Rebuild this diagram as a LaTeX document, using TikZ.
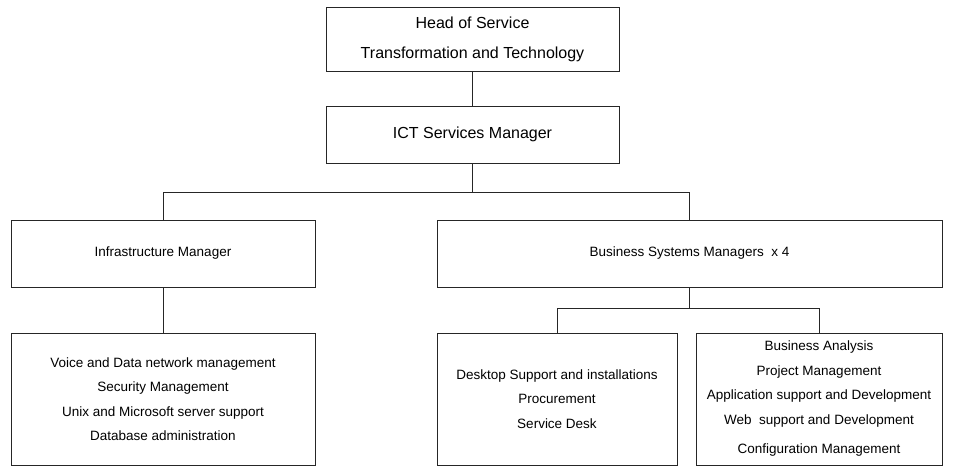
\documentclass[tikz,border=0pt]{standalone}
\usepackage{fontspec}
\setmainfont{Liberation Sans}

\begin{document}
\begin{tikzpicture}[x=1pt,y=-1pt,
       box/.style={rectangle, draw=black!85, line width=1pt, align=center, inner sep=0pt},
       bigtext/.style={font=\fontsize{16}{30}\selectfont},
       smalltext/.style={font=\fontsize{13.5}{24.5}\selectfont},
       link/.style={draw=black!85, line width=1pt}]
       \useasboundingbox (0,0) rectangle (960,466);

       \node[box, bigtext, minimum width=293pt, minimum height=64pt] (head) at (472.5,39) {Head of Service\\Transformation and Technology};
       \node[box, bigtext, minimum width=293pt, minimum height=57pt] (ict) at (472.5,134.5) {ICT Services Manager};

       \node[box, smalltext, minimum width=304pt, minimum height=67pt] (infra) at (163,253.5) {Infrastructure Manager};
       \node[box, smalltext, minimum width=505pt, minimum height=67pt] (bsm) at (689.5,253.5) {Business Systems Managers~ x 4};

       \node[box, smalltext, minimum width=304pt, minimum height=132pt] (network) at (163,399) {Voice and Data network management\\Security Management\\Unix and Microsoft server support\\Database administration};
       \node[box, smalltext, minimum width=240pt, minimum height=132pt] (desktop) at (557,399) {Desktop Support and installations\\Procurement\\Service Desk};
       \node[box, smalltext, minimum width=246pt, minimum height=132pt] (analysis) at (819,399) {Business Analysis\\Project Management\\Application support and Development\\Web~ support and Development\\[5pt]Configuration Management};

       \draw[link] (head.south) -- (ict.south |- ict.north);
       \draw[link] (ict.south) -- ++(0,29) coordinate (ictfork);
       \draw[link] (infra.north) |- (ictfork) -| (bsm.north);
       \draw[link] (infra.south) -- (network.north);
       \draw[link] (bsm.south) -- ++(0,21) coordinate (bsmfork);
       \draw[link] (desktop.north) |- (bsmfork) -| (analysis.north);
      \end{tikzpicture}
\end{document}
